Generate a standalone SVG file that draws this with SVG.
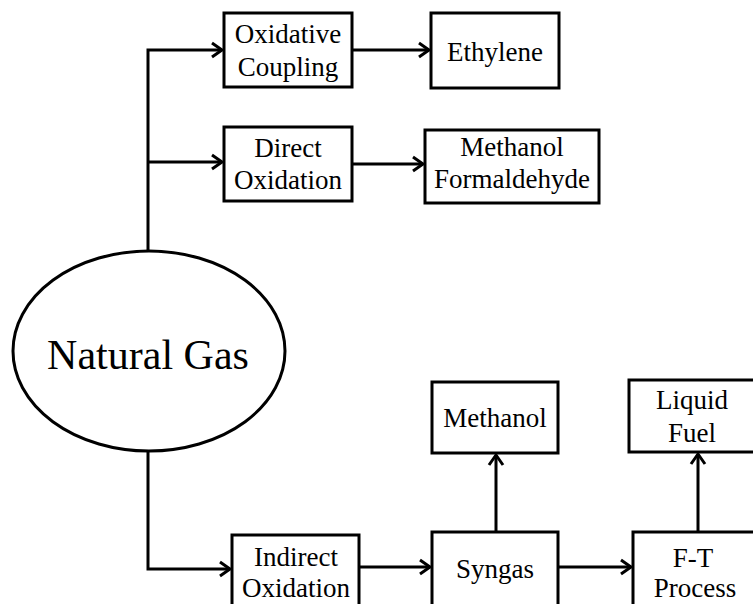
<svg xmlns="http://www.w3.org/2000/svg" width="753" height="604" viewBox="0 0 753 604">
<style>
.box{fill:#fff;stroke:#000;stroke-width:3}
.lbl{font-family:'Liberation Serif','DejaVu Serif',serif;font-size:27px;fill:#000;text-anchor:middle}
.big{font-size:42px}
.conn{fill:none;stroke:#000;stroke-width:3}
</style>
<defs>
<marker id="arr" markerUnits="userSpaceOnUse" markerWidth="14" markerHeight="18" refX="11" refY="8" orient="auto" viewBox="0 0 14 16">
<path d="M1,1 L11,8 L1,15" fill="none" stroke="#000" stroke-width="3"/>
</marker>
</defs>
<rect width="753" height="604" fill="#fff"/>
<g id="connectors">
<polyline class="conn" points="148,251 148,50 222,50" marker-end="url(#arr)"/>
<polyline class="conn" points="148,162 222,162" marker-end="url(#arr)"/>
<polyline class="conn" points="352,50 429,50" marker-end="url(#arr)"/>
<polyline class="conn" points="352,164 423,164" marker-end="url(#arr)"/>
<polyline class="conn" points="148,451 148,569 230,569" marker-end="url(#arr)"/>
<polyline class="conn" points="359,567 430,567" marker-end="url(#arr)"/>
<polyline class="conn" points="558,567 631,567" marker-end="url(#arr)"/>
<polyline class="conn" points="496,532 496,455" marker-end="url(#arr)"/>
<polyline class="conn" points="698,532 698,454" marker-end="url(#arr)"/>
</g>
<g id="natural-gas">
<ellipse class="box" cx="149" cy="351" rx="136" ry="100"/>
<text class="lbl big" x="148" y="369" font-family="Liberation Serif, serif">Natural Gas</text>
</g>
<g id="oxidative-coupling">
<rect class="box" x="224" y="13" width="128" height="74"/>
<text class="lbl" x="288" y="43">Oxidative</text>
<text class="lbl" x="288" y="76">Coupling</text>
</g>
<g id="ethylene">
<rect class="box" x="431" y="13" width="128" height="75"/>
<text class="lbl" x="495" y="61">Ethylene</text>
</g>
<g id="direct-oxidation">
<rect class="box" x="224" y="127" width="128" height="74"/>
<text class="lbl" x="288" y="157">Direct</text>
<text class="lbl" x="288" y="189">Oxidation</text>
</g>
<g id="methanol-formaldehyde">
<rect class="box" x="425" y="130" width="174" height="73"/>
<text class="lbl" x="512" y="156">Methanol</text>
<text class="lbl" x="512" y="188">Formaldehyde</text>
</g>
<g id="indirect-oxidation">
<rect class="box" x="232" y="535" width="127" height="80"/>
<text class="lbl" x="296" y="566">Indirect</text>
<text class="lbl" x="296" y="597">Oxidation</text>
</g>
<g id="syngas">
<rect class="box" x="432" y="532" width="126" height="80"/>
<text class="lbl" x="495" y="578">Syngas</text>
</g>
<g id="methanol">
<rect class="box" x="432" y="382" width="126" height="71"/>
<text class="lbl" x="495" y="427">Methanol</text>
</g>
<g id="ft-process">
<rect class="box" x="633" y="532" width="125" height="80"/>
<text class="lbl" x="693" y="567">F-T</text>
<text class="lbl" x="695" y="597">Process</text>
</g>
<g id="liquid-fuel">
<rect class="box" x="629" y="380" width="126" height="72"/>
<text class="lbl" x="692" y="409">Liquid</text>
<text class="lbl" x="692" y="442">Fuel</text>
</g>
</svg>
